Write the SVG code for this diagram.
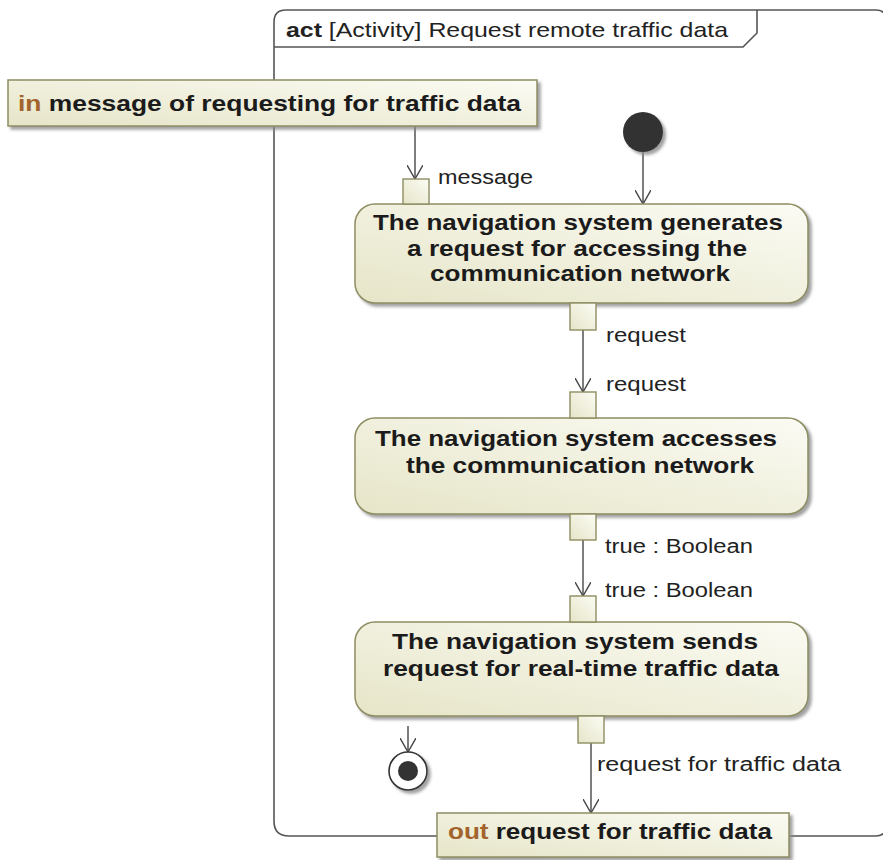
<svg xmlns="http://www.w3.org/2000/svg" width="883" height="860" viewBox="0 0 883 860">
<style>
  .frame{fill:none;stroke:#555;stroke-width:1.6}
  .node{stroke:#8e8d62;stroke-width:1.5;fill:url(#g)}
  .pin{stroke:#8e8d62;stroke-width:1.4;fill:url(#g)}
  .sh{filter:url(#ds)}
  .bt{font-family:"Liberation Sans",Arial,sans-serif;font-weight:bold;font-size:22px;fill:#1b1b1b}
  .ct{text-anchor:middle}
  .lb{font-family:"Liberation Sans",Arial,sans-serif;font-size:20px;fill:#222}
  .kw{fill:#a2632c}
  .cn{stroke:#474747;stroke-width:1.4;fill:none;marker-end:url(#arr)}
</style>
<defs>
  <linearGradient id="g" x1="1" y1="0" x2="0" y2="1">
    <stop offset="0" stop-color="#fbfbf4"/>
    <stop offset="1" stop-color="#e6e5c8"/>
  </linearGradient>
  <filter id="ds" x="-10%" y="-10%" width="130%" height="140%">
    <feDropShadow dx="3" dy="3" stdDeviation="1.6" flood-color="#8a8a8a" flood-opacity="0.8"/>
  </filter>
  <marker id="arr" viewBox="0 0 14 16" refX="14" refY="8" markerWidth="14" markerHeight="16" markerUnits="userSpaceOnUse" orient="auto">
    <path d="M0,0 L14,8 L0,16" fill="none" stroke="#474747" stroke-width="1.4"/>
  </marker>
</defs>

<g id="frame">
  <path class="frame" d="M274,22 Q274,10 286,10 L876,10 Q886,10 886,20 L886,826 Q886,836 876,836 L289,836 Q274,836 274,821 Z"/>
  <path class="frame" d="M274,47 L743,47 L757,33 L757,10"/>
  <text x="286" y="37" class="lb" style="font-size:21px" textLength="442" lengthAdjust="spacingAndGlyphs"><tspan font-weight="bold">act</tspan> [Activity] Request remote traffic data</text>
</g>

<g id="connectors">
  <line class="cn" x1="415" y1="126" x2="415" y2="179"/>
  <line class="cn" x1="643" y1="152" x2="643" y2="204"/>
  <line class="cn" x1="583" y1="330" x2="583" y2="392"/>
  <line class="cn" x1="583" y1="540" x2="583" y2="596"/>
  <line class="cn" x1="591" y1="743" x2="591" y2="813"/>
  <line class="cn" x1="408" y1="726" x2="408" y2="752"/>
</g>

<g id="in_param">
  <rect class="node sh" x="8" y="80" width="529" height="46"/>
  <text x="18" y="111" class="bt" textLength="503" lengthAdjust="spacingAndGlyphs"><tspan class="kw">in</tspan> message of requesting for traffic data</text>
</g>

<g id="initial">
  <circle cx="643" cy="132" r="20" fill="#333" class="sh"/>
</g>

<g id="action1">
  <rect class="node sh" x="355" y="204" width="453" height="99" rx="20"/>
  <rect class="pin" x="403" y="179" width="26" height="25"/>
  <text x="438" y="184" class="lb" textLength="95" lengthAdjust="spacingAndGlyphs">message</text>
  <text x="578" y="230" class="bt ct" textLength="410" lengthAdjust="spacingAndGlyphs">The navigation system generates</text>
  <text x="577" y="256" class="bt ct" textLength="340" lengthAdjust="spacingAndGlyphs">a request for accessing the</text>
  <text x="580" y="281" class="bt ct" textLength="300" lengthAdjust="spacingAndGlyphs">communication network</text>
  <rect class="pin" x="570" y="303" width="26" height="27"/>
  <text x="606" y="342" class="lb" textLength="80" lengthAdjust="spacingAndGlyphs">request</text>
</g>

<g id="action2">
  <rect class="node sh" x="355" y="418" width="453" height="96" rx="20"/>
  <rect class="pin" x="570" y="392" width="26" height="26"/>
  <text x="606" y="391" class="lb" textLength="80" lengthAdjust="spacingAndGlyphs">request</text>
  <text x="576" y="446" class="bt ct" textLength="402" lengthAdjust="spacingAndGlyphs">The navigation system accesses</text>
  <text x="580" y="473" class="bt ct" textLength="348" lengthAdjust="spacingAndGlyphs">the communication network</text>
  <rect class="pin" x="570" y="514" width="26" height="26"/>
  <text x="605" y="553" class="lb" textLength="148" lengthAdjust="spacingAndGlyphs">true : Boolean</text>
</g>

<g id="action3">
  <rect class="node sh" x="355" y="622" width="453" height="94" rx="20"/>
  <rect class="pin" x="570" y="596" width="26" height="26"/>
  <text x="605" y="597" class="lb" textLength="148" lengthAdjust="spacingAndGlyphs">true : Boolean</text>
  <text x="575" y="649" class="bt ct" textLength="366" lengthAdjust="spacingAndGlyphs">The navigation system sends</text>
  <text x="581" y="676" class="bt ct" textLength="396" lengthAdjust="spacingAndGlyphs">request for real-time traffic data</text>
  <rect class="pin" x="578" y="716" width="26" height="27"/>
  <text x="597" y="771" class="lb" textLength="244" lengthAdjust="spacingAndGlyphs">request for traffic data</text>
</g>

<g id="final">
  <circle cx="408" cy="771" r="19" fill="#fff" stroke="#333" stroke-width="1.6" class="sh"/>
  <circle cx="408" cy="771" r="10" fill="#333"/>
</g>

<g id="out_param">
  <rect class="node sh" x="437" y="813" width="352" height="44"/>
  <text x="448" y="839" class="bt" textLength="324" lengthAdjust="spacingAndGlyphs"><tspan class="kw">out</tspan> request for traffic data</text>
</g>
</svg>
